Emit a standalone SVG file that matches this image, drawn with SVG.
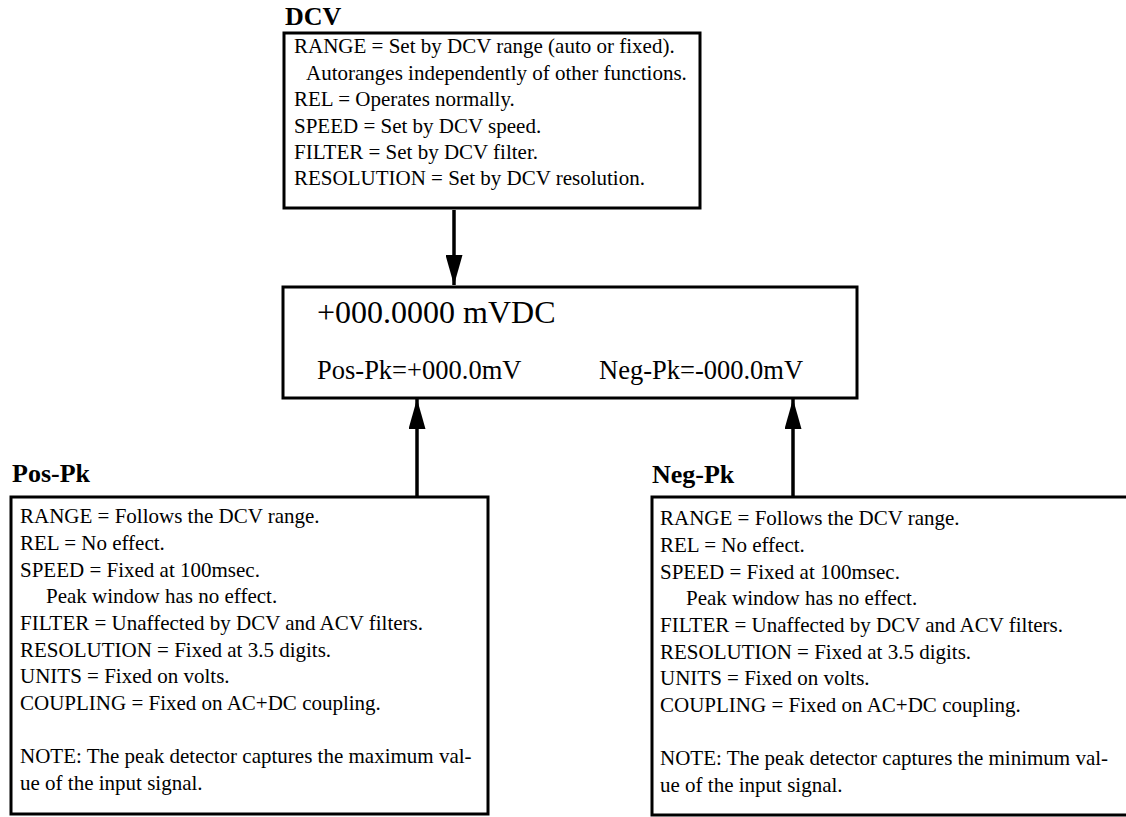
<svg xmlns="http://www.w3.org/2000/svg" width="1126" height="817" viewBox="0 0 1126 817">
<style>
.box{fill:#fff;stroke:#000;stroke-width:3}
.t{font-family:"Liberation Serif","Times New Roman",serif;font-size:21px;fill:#000}
.h{font-family:"Liberation Serif","Times New Roman",serif;font-size:26px;font-weight:bold;fill:#000}
.big{font-family:"Liberation Serif","Times New Roman",serif;font-size:32px;fill:#000}
.mid{font-family:"Liberation Serif","Times New Roman",serif;font-size:26.5px;fill:#000}
.c{stroke:#000;stroke-width:3.5;fill:none}
</style>
<defs>
<marker id="ah" viewBox="0 0 30 17" refX="30" refY="8.5" markerWidth="30" markerHeight="17" markerUnits="userSpaceOnUse" orient="auto">
<path d="M0,0 L30,8.5 L0,17 z" fill="#000"/>
</marker>
</defs>
<g id="dcv">
<text class="h" x="285" y="25">DCV</text>
<rect class="box" x="284" y="33" width="416" height="175"/>
<text class="t" x="294" y="53">RANGE = Set by DCV range (auto or fixed).</text>
<text class="t" x="306" y="80">Autoranges independently of other functions.</text>
<text class="t" x="294" y="106">REL = Operates normally.</text>
<text class="t" x="294" y="133">SPEED = Set by DCV speed.</text>
<text class="t" x="294" y="159">FILTER = Set by DCV filter.</text>
<text class="t" x="294" y="185">RESOLUTION = Set by DCV resolution.</text>
</g>
<g id="display">
<rect class="box" x="283" y="287" width="574" height="111"/>
<text class="big" x="317" y="323">+000.0000 mVDC</text>
<text class="mid" x="317" y="379">Pos-Pk=+000.0mV</text>
<text class="mid" x="599" y="379">Neg-Pk=-000.0mV</text>
</g>
<g id="pospk">
<text class="h" x="12" y="482">Pos-Pk</text>
<rect class="box" x="11" y="497" width="477" height="317"/>
<text class="t" x="20" y="523">RANGE = Follows the DCV range.</text>
<text class="t" x="20" y="550">REL = No effect.</text>
<text class="t" x="20" y="577">SPEED = Fixed at 100msec.</text>
<text class="t" x="46" y="603">Peak window has no effect.</text>
<text class="t" x="20" y="630">FILTER = Unaffected by DCV and ACV filters.</text>
<text class="t" x="20" y="657">RESOLUTION = Fixed at 3.5 digits.</text>
<text class="t" x="20" y="683">UNITS = Fixed on volts.</text>
<text class="t" x="20" y="710">COUPLING = Fixed on AC+DC coupling.</text>
<text class="t" x="20" y="763">NOTE: The peak detector captures the maximum val-</text>
<text class="t" x="20" y="790">ue of the input signal.</text>
</g>
<g id="negpk">
<text class="h" x="652" y="483">Neg-Pk</text>
<rect class="box" x="652" y="497" width="480" height="318"/>
<text class="t" x="660" y="525">RANGE = Follows the DCV range.</text>
<text class="t" x="660" y="552">REL = No effect.</text>
<text class="t" x="660" y="579">SPEED = Fixed at 100msec.</text>
<text class="t" x="686" y="605">Peak window has no effect.</text>
<text class="t" x="660" y="632">FILTER = Unaffected by DCV and ACV filters.</text>
<text class="t" x="660" y="659">RESOLUTION = Fixed at 3.5 digits.</text>
<text class="t" x="660" y="685">UNITS = Fixed on volts.</text>
<text class="t" x="660" y="712">COUPLING = Fixed on AC+DC coupling.</text>
<text class="t" x="660" y="765">NOTE: The peak detector captures the minimum val-</text>
<text class="t" x="660" y="792">ue of the input signal.</text>
</g>
<g id="connectors">
<line class="c" x1="454" y1="210" x2="454" y2="285" marker-end="url(#ah)"/>
<line class="c" x1="417" y1="496" x2="417" y2="399" marker-end="url(#ah)"/>
<line class="c" x1="793" y1="496" x2="793" y2="399" marker-end="url(#ah)"/>
</g>
</svg>
